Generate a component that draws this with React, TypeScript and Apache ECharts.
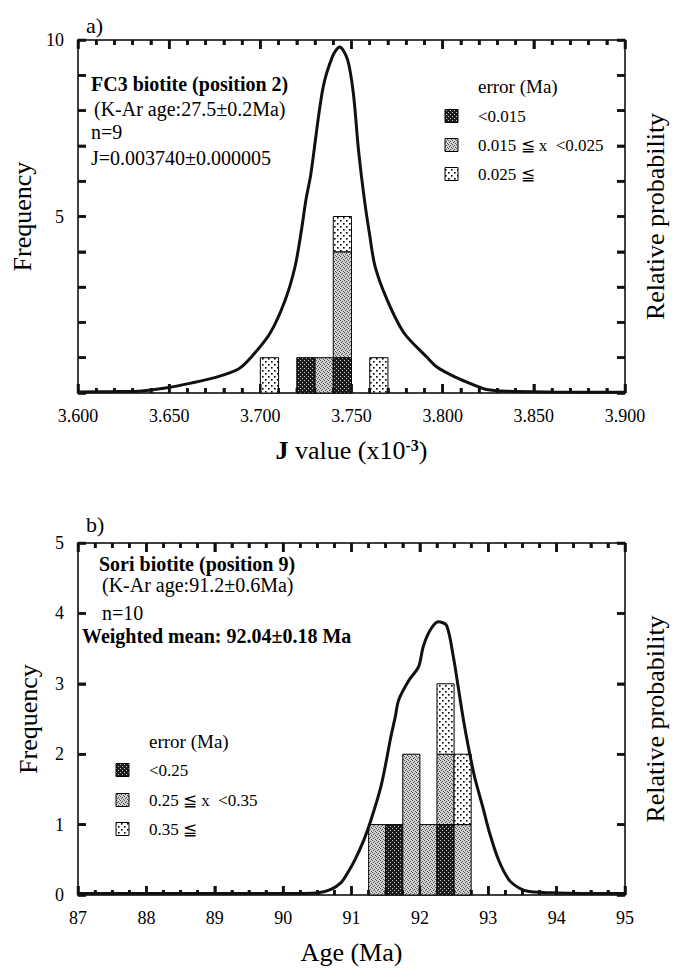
import React, { useEffect, useRef } from 'react';
import * as echarts from 'echarts';

// ---------- Panel a: J value histogram (x10^-3) ----------
const jBinStart = [3.700, 3.720, 3.730, 3.740, 3.760];
const jBinWidth = 0.01;
const jCountLow = [0, 1, 0, 1, 0];   // error < 0.015
const jCountMid = [0, 0, 1, 3, 0];   // 0.015 <= x < 0.025
const jCountHigh = [1, 0, 0, 1, 1];  // 0.025 <=
const jCurve = [
  [3.600, 0.03], [3.620, 0.04], [3.635, 0.06], [3.648, 0.14], [3.662, 0.28], [3.676, 0.45],
  [3.688, 0.68], [3.6951, 1.02], [3.7054, 1.70], [3.7136, 2.63], [3.719, 3.57], [3.7223, 4.53],
  [3.725, 5.47], [3.7277, 6.2], [3.7342, 8.6], [3.7397, 9.55], [3.7435, 9.8], [3.7478, 9.45],
  [3.751, 8.5], [3.7538, 6.9], [3.7571, 5.47], [3.7598, 4.53], [3.763, 3.57], [3.7696, 2.63],
  [3.7788, 1.70], [3.7913, 1.02], [3.797, 0.73], [3.807, 0.45], [3.817, 0.23], [3.824, 0.1],
  [3.835, 0.05], [3.860, 0.03], [3.900, 0.02],
];
const jLabelledTicks = [5, 10];
const jLegend = ['<0.015', '0.015 ≦ x  <0.025', '0.025 ≦'];
const jNotes = ['FC3 biotite (position 2)', '(K-Ar age:27.5±0.2Ma)', 'n=9', 'J=0.003740±0.000005'];

// ---------- Panel b: Age histogram ----------
const ageBinStart = [91.25, 91.5, 91.75, 92.0, 92.25, 92.5];
const ageBinWidth = 0.25;
const ageCountLow = [0, 1, 0, 0, 1, 0];   // < 0.25
const ageCountMid = [1, 0, 2, 1, 1, 1];   // 0.25 <= x < 0.35
const ageCountHigh = [0, 0, 0, 0, 1, 1];  // 0.35 <=
const ageCurve = [
  [87.0, 0.02], [88.0, 0.02], [89.0, 0.02], [90.0, 0.02], [90.5, 0.03], [90.7, 0.08], [90.85, 0.18],
  [90.94, 0.31], [91.05, 0.5], [91.18, 0.78], [91.28, 1.05], [91.43, 1.54], [91.52, 1.96], [91.57, 2.22],
  [91.64, 2.53], [91.69, 2.77], [91.84, 3.05], [91.98, 3.24], [92.05, 3.53], [92.15, 3.76], [92.27, 3.88],
  [92.39, 3.83], [92.49, 3.38], [92.56, 2.96], [92.63, 2.53], [92.71, 2.1], [92.80, 1.68], [92.92, 1.25],
  [93.02, 0.88], [93.15, 0.5], [93.3, 0.22], [93.45, 0.1], [93.6, 0.05], [94.0, 0.03], [95.0, 0.02],
];
const ageLegend = ['<0.25', '0.25 ≦ x  <0.35', '0.35 ≦'];
const ageNotes = ['Sori biotite (position 9)', '(K-Ar age:91.2±0.6Ma)', 'n=10', 'Weighted mean: 92.04±0.18 Ma'];

// ---------- Axis ranges and tick steps ----------
const jX = { min: 3.6, max: 3.9, major: 0.05, minor: 0.01 };
const jY = { min: 0, max: 10, major: 1 };
const ageX = { min: 87, max: 95, major: 1, minor: 0.25 };
const ageY = { min: 0, max: 5, major: 1 };

const SERIF = "'Liberation Serif', 'Times New Roman', 'DejaVu Serif', serif";

function buildRects(starts: number[], width: number, low: number[], mid: number[], high: number[]) {
  const out: number[][] = [];
  starts.forEach((s, i) => {
    let y = 0;
    [low[i], mid[i], high[i]].forEach((c, k) => {
      if (c > 0) {
        out.push([s, s + width, y, y + c, k]);
        y += c;
      }
    });
  });
  return out;
}

// kind: 0 bottom major, 1 bottom minor, 2 top major, 3 top minor, 4 left, 5 right
function buildTicks(x: any, y: any) {
  const out: number[][] = [];
  const nMinor = Math.round((x.max - x.min) / x.minor);
  const ratio = Math.round(x.major / x.minor);
  for (let i = 0; i <= nMinor; i++) {
    const v = +(x.min + i * x.minor).toFixed(6);
    const isMajor = i % ratio === 0;
    out.push([v, isMajor ? 0 : 1]);
    out.push([v, isMajor ? 2 : 3]);
  }
  const nY = Math.round((y.max - y.min) / y.major);
  for (let i = 0; i <= nY; i++) {
    const v = y.min + i * y.major;
    out.push([v, 4]);
    out.push([v, 5]);
  }
  return out;
}

function makePattern(kind: number) {
  const c = document.createElement('canvas');
  const ctx = c.getContext('2d')!;
  if (kind === 0) {
    c.width = 4; c.height = 4;
    ctx.fillStyle = '#1c1c1c'; ctx.fillRect(0, 0, 4, 4);
    ctx.fillStyle = '#cfcfcf';
    ctx.fillRect(0, 0, 1, 1); ctx.fillRect(2, 2, 1, 1);
  } else if (kind === 1) {
    c.width = 4; c.height = 4;
    ctx.fillStyle = '#d2d2d2'; ctx.fillRect(0, 0, 4, 4);
    ctx.fillStyle = '#4a4a4a';
    ctx.fillRect(0, 0, 1, 1); ctx.fillRect(2, 1, 1, 1); ctx.fillRect(1, 2, 1, 1); ctx.fillRect(3, 3, 1, 1);
  } else {
    c.width = 6; c.height = 6;
    ctx.fillStyle = '#ffffff'; ctx.fillRect(0, 0, 6, 6);
    ctx.fillStyle = '#000000';
    ctx.fillRect(1, 1, 1.6, 1.6); ctx.fillRect(4, 4, 1.6, 1.6);
  }
  return { image: c, repeat: 'repeat' };
}

function makeAxis(gridIndex: number, r: any, position: string, isX: boolean) {
  return {
    type: 'value', gridIndex, min: r.min, max: r.max, interval: r.major, position,
    axisLine: { show: true, onZero: false, lineStyle: { color: '#000', width: 1.5 } },
    splitLine: { show: false },
    axisTick: { show: true, inside: true, length: isX ? 9 : 8, lineStyle: { color: '#111', width: 2.5 } },
    minorTick: isX
      ? { show: true, splitNumber: Math.round(r.major / r.minor), length: 5, lineStyle: { color: '#111', width: 2.5 } }
      : { show: false },
  };
}

export default function App() {
  const ref = useRef<HTMLDivElement>(null);
  useEffect(() => {
    if (!ref.current) return;
    const chart = echarts.init(ref.current, null, { renderer: 'svg' });
    const pats = [makePattern(0), makePattern(1), makePattern(2)];

    const labelStyle = { color: '#000', fontFamily: SERIF, fontSize: 18 };
    const nameStyle = { color: '#000', fontFamily: SERIF, fontSize: 26 };

    const renderBars = (params: any, api: any) => {
      const p0 = api.coord([api.value(0), api.value(3)]);
      const p1 = api.coord([api.value(1), api.value(2)]);
      return {
        type: 'rect',
        shape: { x: p0[0], y: p0[1], width: p1[0] - p0[0], height: p1[1] - p0[1] },
        style: { fill: pats[api.value(4)], stroke: '#000', lineWidth: 1 },
      };
    };

    const tickRenderer = (xr: any, yr: any) => (params: any, api: any) => {
      const v = api.value(0);
      const k = api.value(1);
      let x1 = 0, y1 = 0, x2 = 0, y2 = 0;
      if (k <= 1) {
        const p = api.coord([v, yr.min]);
        const len = k === 0 ? 9 : 5;
        x1 = x2 = p[0]; y1 = p[1]; y2 = p[1] - len;
      } else if (k <= 3) {
        const p = api.coord([v, yr.max]);
        const len = k === 2 ? 9 : 5;
        x1 = x2 = p[0]; y1 = p[1]; y2 = p[1] + len;
      } else if (k === 4) {
        const p = api.coord([xr.min, v]);
        x1 = p[0]; x2 = p[0] + 8; y1 = y2 = p[1];
      } else {
        const p = api.coord([xr.max, v]);
        x1 = p[0]; x2 = p[0] - 8; y1 = y2 = p[1];
      }
      return { type: 'line', shape: { x1, y1, x2, y2 }, style: { stroke: '#111', lineWidth: 2.5 } };
    };

    const legendGraphics = (x: number, yTitle: number, ys: number[], labels: string[]) => {
      const els: any[] = [
        { type: 'text', x: x + 33, y: yTitle, style: { text: 'error (Ma)', font: `19px ${SERIF}`, fill: '#000', textVerticalAlign: 'middle' } },
      ];
      labels.forEach((t, i) => {
        els.push({ type: 'rect', shape: { x, y: ys[i] - 6.5, width: 13, height: 13 }, style: { fill: pats[i], stroke: '#000', lineWidth: 1 } });
        els.push({ type: 'text', x: x + 33, y: ys[i], style: { text: t, font: `17px ${SERIF}`, fill: '#000', textVerticalAlign: 'middle' } });
      });
      return els;
    };

    const noteText = (t: string, x: number, y: number, bold: boolean) => ({
      type: 'text', x, y,
      style: { text: t, font: `${bold ? 'bold ' : ''}20px ${SERIF}`, fill: '#000', textVerticalAlign: 'middle' },
    });

    const option: any = {
      animation: false,
      grid: [
        { left: 78, top: 40, width: 552, height: 353 },
        { left: 78, top: 543, width: 552, height: 352 },
      ],
      xAxis: [
        {
          ...makeAxis(0, jX, 'bottom', true),
          axisLabel: { ...labelStyle, margin: 14, formatter: (v: number) => v.toFixed(3) },
          name: '{b|J} value (x10{s|-3})', nameLocation: 'middle', nameGap: 44,
          nameTextStyle: {
            ...nameStyle,
            rich: {
              b: { fontFamily: SERIF, fontSize: 26, fontWeight: 'bold', color: '#000' },
              s: { fontFamily: SERIF, fontSize: 16, fontWeight: 'bold', color: '#000', verticalAlign: 'top' },
            },
          },
        },
        { ...makeAxis(0, jX, 'top', true), axisLabel: { show: false } },
        {
          ...makeAxis(1, ageX, 'bottom', true),
          axisLabel: { ...labelStyle, margin: 14 },
          name: 'Age (Ma)', nameLocation: 'middle', nameGap: 44, nameTextStyle: nameStyle,
        },
        { ...makeAxis(1, ageX, 'top', true), axisLabel: { show: false } },
      ],
      yAxis: [
        {
          ...makeAxis(0, jY, 'left', false),
          axisLabel: { ...labelStyle, margin: 14, formatter: (v: number) => (jLabelledTicks.includes(v) ? String(v) : '') },
          name: 'Frequency', nameLocation: 'middle', nameRotate: 90, nameGap: 37, nameTextStyle: nameStyle,
        },
        {
          ...makeAxis(0, jY, 'right', false), axisLabel: { show: false },
          name: 'Relative probability', nameLocation: 'middle', nameRotate: 90, nameGap: 17, nameTextStyle: nameStyle,
        },
        {
          ...makeAxis(1, ageY, 'left', false),
          axisLabel: { ...labelStyle, margin: 14 },
          name: 'Frequency', nameLocation: 'middle', nameRotate: 90, nameGap: 37, nameTextStyle: nameStyle,
        },
        {
          ...makeAxis(1, ageY, 'right', false), axisLabel: { show: false },
          name: 'Relative probability', nameLocation: 'middle', nameRotate: 90, nameGap: 17, nameTextStyle: nameStyle,
        },
      ],
      series: [
        {
          type: 'custom', name: 'J histogram', xAxisIndex: 0, yAxisIndex: 0,
          data: buildRects(jBinStart, jBinWidth, jCountLow, jCountMid, jCountHigh),
          renderItem: renderBars, encode: { x: [0, 1], y: [2, 3] }, z: 2,
        },
        {
          type: 'line', name: 'J probability', xAxisIndex: 0, yAxisIndex: 1, data: jCurve,
          showSymbol: false, smooth: 0.3, lineStyle: { color: '#111', width: 3 }, z: 3,
        },
        {
          type: 'custom', name: 'J ticks', xAxisIndex: 0, yAxisIndex: 0,
          data: buildTicks(jX, jY), renderItem: tickRenderer(jX, jY), encode: { x: 0, y: 1 }, z: 5,
        },
        {
          type: 'custom', name: 'Age histogram', xAxisIndex: 2, yAxisIndex: 2,
          data: buildRects(ageBinStart, ageBinWidth, ageCountLow, ageCountMid, ageCountHigh),
          renderItem: renderBars, encode: { x: [0, 1], y: [2, 3] }, z: 2,
        },
        {
          type: 'line', name: 'Age probability', xAxisIndex: 2, yAxisIndex: 3, data: ageCurve,
          showSymbol: false, smooth: 0.3, lineStyle: { color: '#111', width: 3 }, z: 3,
        },
        {
          type: 'custom', name: 'Age ticks', xAxisIndex: 2, yAxisIndex: 2,
          data: buildTicks(ageX, ageY), renderItem: tickRenderer(ageX, ageY), encode: { x: 0, y: 1 }, z: 5,
        },
      ],
      graphic: [
        { type: 'text', x: 86, y: 25, style: { text: 'a)', font: `22px ${SERIF}`, fill: '#000', textVerticalAlign: 'middle' } },
        { type: 'text', x: 86, y: 524, style: { text: 'b)', font: `22px ${SERIF}`, fill: '#000', textVerticalAlign: 'middle' } },
        noteText(jNotes[0], 91, 84, true),
        noteText(jNotes[1], 94, 109, false),
        noteText(jNotes[2], 91, 132, false),
        noteText(jNotes[3], 91, 158, false),
        noteText(ageNotes[0], 99, 564, true),
        noteText(ageNotes[1], 102, 585, false),
        noteText(ageNotes[2], 102, 613, false),
        noteText(ageNotes[3], 82, 636, true),
        ...legendGraphics(445, 86, [116, 145, 174], jLegend),
        ...legendGraphics(116, 741, [770, 800, 829], ageLegend),
      ],
    };
    chart.setOption(option);
    return () => chart.dispose();
  }, []);
  return (
    <div
      ref={ref}
      style={{ position: 'absolute', left: 0, top: 0, width: 676, height: 969, background: '#fff' }}
    />
  );
}
